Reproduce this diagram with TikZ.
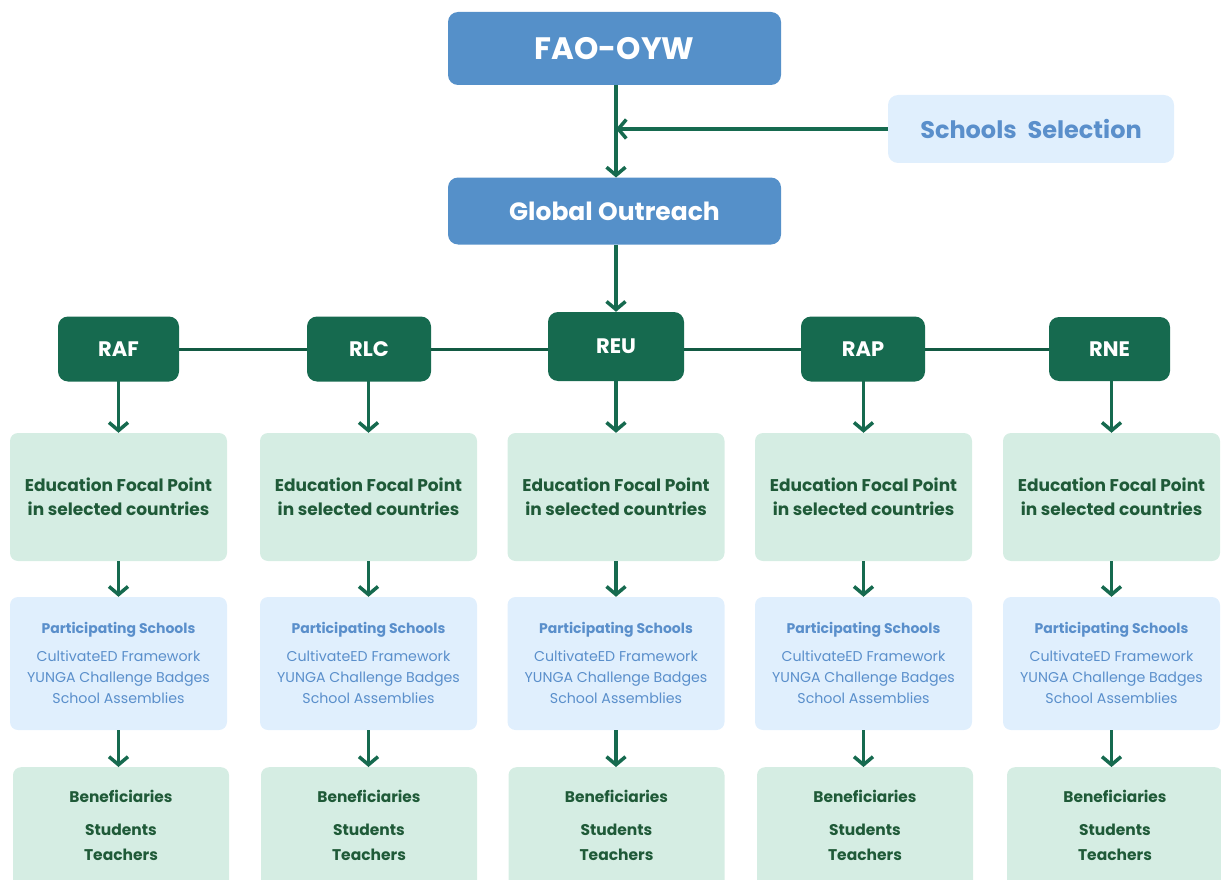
\documentclass[tikz,border=0pt]{standalone}
\usepackage{fontspec}
\setmainfont{Poppins}
\usetikzlibrary{arrows.meta}
\definecolor{topblue}{HTML}{5590C9}
\definecolor{lightblue}{HTML}{E0EFFD}
\definecolor{dkgreen}{HTML}{166A4F}
\definecolor{lightgreen}{HTML}{D5EDE3}
\definecolor{txtgreen}{HTML}{1F5A38}
\definecolor{txtblue}{HTML}{5A8FCB}
\tikzset{
  topbox/.style={fill=topblue, rounded corners=10pt, text=white, font=\bfseries\fontsize{25}{28}\selectfont, minimum width=333pt, minimum height=67pt, inner sep=0pt},
  selbox/.style={fill=lightblue, rounded corners=10pt, text=txtblue, font=\bfseries\fontsize{24}{28}\selectfont, minimum width=286pt, minimum height=68pt, inner sep=0pt},
  regbox/.style={fill=dkgreen, rounded corners=10pt, text=white, font=\bfseries\fontsize{21}{24}\selectfont, minimum height=65pt, inner sep=0pt},
  focbox/.style={fill=lightgreen, rounded corners=8pt, text=txtgreen, font=\bfseries\fontsize{17}{24}\selectfont, align=center, minimum width=217pt, minimum height=128pt, inner sep=0pt},
  parbox/.style={fill=lightblue, rounded corners=8pt, minimum width=217pt, minimum height=133pt, inner sep=0pt},
  partitle/.style={text=txtblue, font=\bfseries\fontsize{14}{16}\selectfont, anchor=base},
  parlist/.style={text=txtblue, font=\fontsize{14.2}{21}\selectfont, align=center, anchor=north},
  benbox/.style={fill=lightgreen, rounded corners=8pt, minimum width=216pt, minimum height=126pt, inner sep=0pt},
  bentitle/.style={text=txtgreen, font=\bfseries\fontsize{15.4}{17}\selectfont, anchor=base},
  benlist/.style={text=txtgreen, font=\bfseries\fontsize{15.5}{25}\selectfont, align=center, anchor=north},
  arr/.style={draw=dkgreen, line width=3.5pt, -{Straight Barb[length=8pt,width=19pt]}},
  hline/.style={draw=dkgreen!85!black, line width=3pt},
}
\newcommand{\mycol}[4]{%
  \node[focbox] (f#1) at (#3,497) {Education Focal Point\\in selected countries};
  \node[parbox] (p#1) at (#3,663.5) {};
  \node[partitle] (pt#1) at (#3,633.5) {Participating Schools};
  \node[parlist] (pl#1) at (#3,647) {CultivateED Framework\\YUNGA Challenge Badges\\School Assemblies};
  \node[benbox, anchor=north] (b#1) at (#4,767) {};
  \node[bentitle] (bt#1) at (#4,802) {Beneficiaries};
  \node[benlist] (bs#1) at (#4,820.5) {Students\\Teachers};
  \coordinate (rs#1) at (#3,381);
  \coordinate (bn#1) at (#3,767);
  \draw[arr] (rs#1) -- (f#1.north);
  \draw[arr] (f#1.south) -- (p#1.north);
  \draw[arr] (p#1.south) -- (bn#1);
}
\begin{document}
\begin{tikzpicture}[x=1pt,y=-1pt]
\useasboundingbox (0,0) rectangle (1221,880);
\node[topbox, font=\bfseries\fontsize{31}{34}\selectfont, minimum height=73pt] (fao) at (614.5,48.5) {FAO-OYW};
\node[selbox] (sel) at (1031,129) {Schools\hspace{0.45em}Selection};
\node[topbox] (glob) at (614.5,211) {Global Outreach};
\coordinate (j) at (616,129);
\coordinate (faob) at (616,85);
\coordinate (globt) at (616,177.5);
\coordinate (globb) at (616,244.5);
\draw[arr] (faob) -- (globt);
\draw[arr] (sel.west) -- (j);
% regions
\node[regbox, minimum width=121pt] (raf) at (118.5,349) {RAF};
\node[regbox, minimum width=124pt] (rlc) at (369,349) {RLC};
\node[regbox, minimum width=136pt, minimum height=69pt] (reu) at (616,346.5) {REU};
\node[regbox, minimum width=124pt] (rap) at (863,349) {RAP};
\node[regbox, minimum width=121pt, minimum height=64pt] (rne) at (1109.5,349) {RNE};
\draw[hline] (raf.east) -- (rlc.west);
\draw[hline] (rlc.east) -- (reu.west |- rlc.east);
\draw[hline] (reu.east |- rap.west) -- (rap.west);
\draw[hline] (rap.east) -- (rne.west);
\draw[arr] (globb) -- (reu.north);
% columns
\mycol{a}{raf}{118.5}{121}
\mycol{b}{rlc}{368.5}{369}
\mycol{c}{reu}{616}{616.5}
\mycol{d}{rap}{863.5}{865}
\mycol{e}{rne}{1111.5}{1115}
\end{tikzpicture}
\end{document}
